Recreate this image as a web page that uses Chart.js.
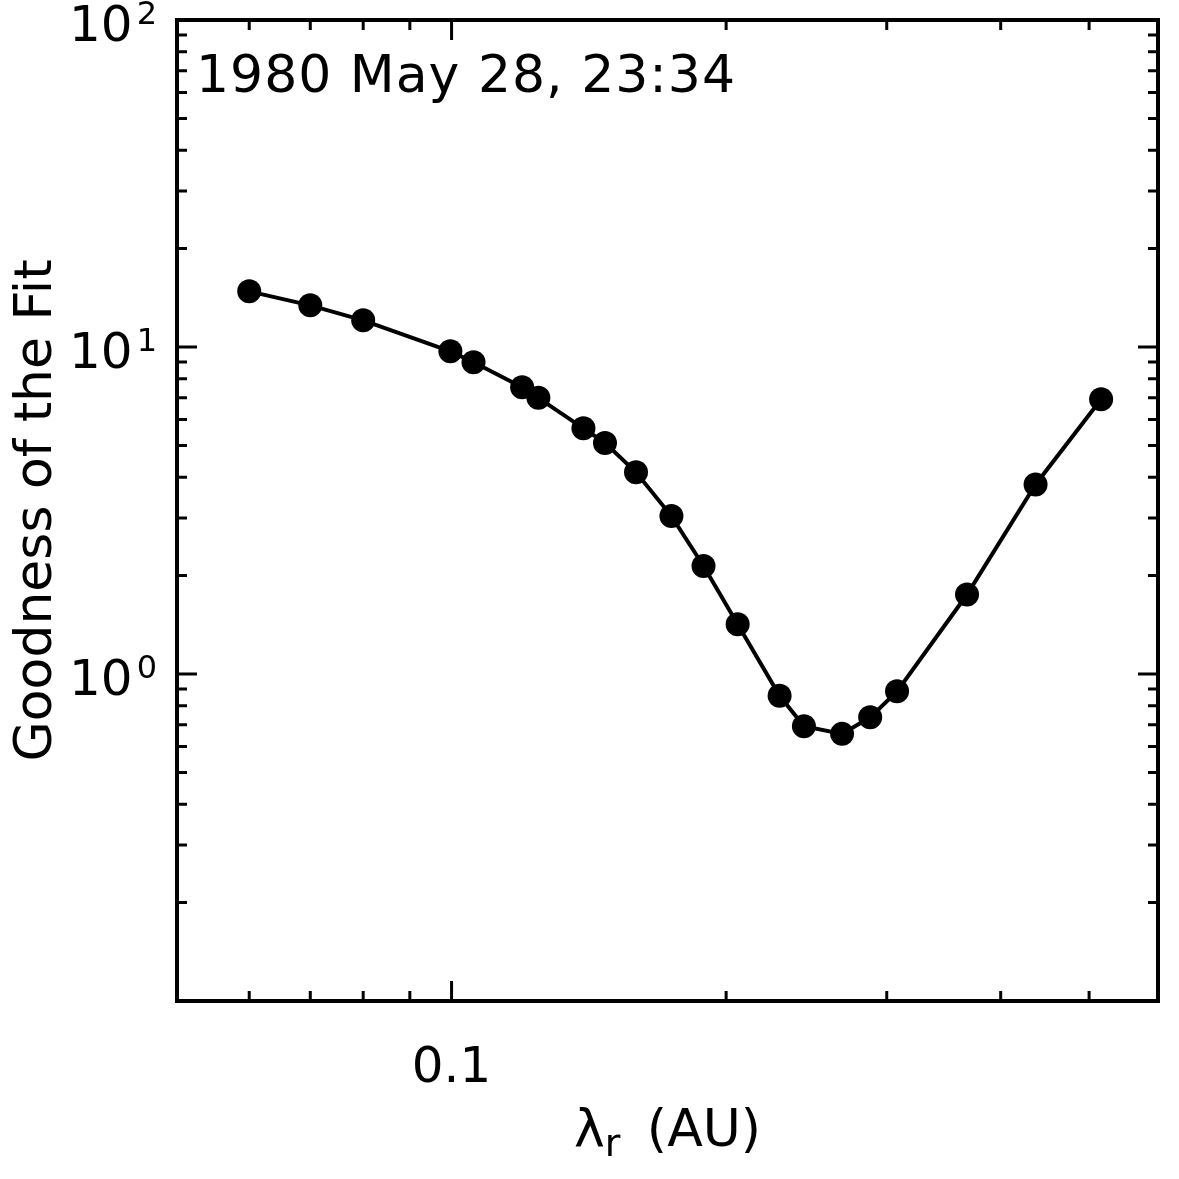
<!DOCTYPE html>
<html>
<head>
<meta charset="utf-8">
<script src="https://cdn.jsdelivr.net/npm/chart.js@4/dist/chart.umd.min.js"></script>
<style>
  html, body { margin: 0; padding: 0; background: #fff; }
  canvas { display: block; }
</style>
</head>
<body>
<canvas id="fit" width="1179" height="1179"></canvas>
<script>
// data
var lambdaR = [0.060, 0.070, 0.080, 0.0997, 0.1057, 0.1195, 0.1245, 0.1395, 0.1473, 0.1593,
               0.1742, 0.1889, 0.2059, 0.2289, 0.2434, 0.2680, 0.2877, 0.3079, 0.3674, 0.4368, 0.5154];
var goodness = [14.80, 13.41, 12.07, 9.70, 8.98, 7.53, 6.99, 5.64, 5.09, 4.14,
                3.04, 2.14, 1.42, 0.858, 0.692, 0.656, 0.737, 0.885, 1.75, 3.80, 6.92];

// axes
var xMin = 0.05, xMax = 0.595;
var yMin = 0.1, yMax = 100;
var xMajorTicks = [0.1];
var xMinorTicks = [0.06, 0.07, 0.08, 0.09, 0.2, 0.3, 0.4, 0.5];
var yMajorTicks = [1, 10];
var yMinorTicks = [0.2, 0.3, 0.4, 0.5, 0.6, 0.7, 0.8, 0.9, 2, 3, 4, 5, 6, 7, 8, 9, 20, 30, 40, 50, 60, 70, 80, 90];
var yLabelExps = [0, 1, 2];

var titleText = "1980 May 28, 23:34";
var yTitle = "Goodness of the Fit";
var font = "'DejaVu Sans', sans-serif";

// frame, inward ticks, labels
var idlFrame = {
    id: "idlFrame",
    afterDraw: function(chart) {
        var ctx = chart.ctx, a = chart.chartArea;
        var xs = chart.scales.x, ys = chart.scales.y;
        ctx.save();
        ctx.strokeStyle = "#000";
        ctx.lineCap = "butt";

        ctx.lineWidth = 3;
        function xTick(v, len) {
            var px = xs.getPixelForValue(v);
            ctx.beginPath();
            ctx.moveTo(px, a.bottom); ctx.lineTo(px, a.bottom - len);
            ctx.moveTo(px, a.top); ctx.lineTo(px, a.top + len);
            ctx.stroke();
        }
        function yTick(v, len) {
            var py = ys.getPixelForValue(v);
            ctx.beginPath();
            ctx.moveTo(a.left, py); ctx.lineTo(a.left + len, py);
            ctx.moveTo(a.right, py); ctx.lineTo(a.right - len, py);
            ctx.stroke();
        }
        xMajorTicks.forEach(function(v) { xTick(v, 20); });
        xMinorTicks.forEach(function(v) { xTick(v, 10); });
        yMajorTicks.forEach(function(v) { yTick(v, 20); });
        yMinorTicks.forEach(function(v) { yTick(v, 10); });

        ctx.lineWidth = 4;
        ctx.strokeRect(a.left, a.top, a.right - a.left, a.bottom - a.top);

        // y tick labels 10^n
        ctx.fillStyle = "#000";
        ctx.textBaseline = "alphabetic";
        yLabelExps.forEach(function(e) {
            var py = ys.getPixelForValue(Math.pow(10, e));
            ctx.font = "32px " + font;
            ctx.textAlign = "right";
            ctx.fillText(String(e), a.left - 20, py + 4);
            var w = ctx.measureText(String(e)).width;
            ctx.font = "50px " + font;
            ctx.fillText("10", a.left - 24 - w, py + 21);
        });

        // x axis title with subscript
        var cx = (a.left + a.right) / 2, by = 1146;
        ctx.font = "52px " + font;
        var w1 = ctx.measureText("\u03bb").width;
        var w3 = ctx.measureText(" (AU)").width + 10;
        ctx.font = "38px " + font;
        var w2 = ctx.measureText("r").width;
        var x0 = cx - (w1 + w2 + w3) / 2;
        ctx.textAlign = "left";
        ctx.font = "52px " + font;
        ctx.fillText("\u03bb", x0, by);
        ctx.fillText(" (AU)", x0 + w1 + w2 + 10, by);
        ctx.font = "38px " + font;
        ctx.fillText("r", x0 + w1, by + 10);

        // date label inside the box
        ctx.font = "52px " + font;
        if ("letterSpacing" in ctx) ctx.letterSpacing = "1px";
        ctx.fillText(titleText, a.left + 19, a.top + 72);
        ctx.restore();
    }
};

new Chart(document.getElementById("fit"), {
    type: "line",
    data: {
        datasets: [{
            data: lambdaR.map(function(x, i) { return { x: x, y: goodness[i] }; }),
            borderColor: "#000",
            borderWidth: 4,
            backgroundColor: "#000",
            pointBackgroundColor: "#000",
            pointBorderColor: "#000",
            pointRadius: 12,
            pointBorderWidth: 0,
            tension: 0,
            fill: false
        }]
    },
    options: {
        responsive: false,
        animation: false,
        devicePixelRatio: 1,
        layout: { padding: { top: 20, right: 21, left: 0, bottom: 0 } },
        plugins: { legend: { display: false }, tooltip: { enabled: false } },
        scales: {
            x: {
                type: "logarithmic",
                min: xMin, max: xMax,
                grid: { display: false, drawTicks: false },
                border: { display: false },
                afterFit: function(s) { s.height = 178; s.paddingLeft = 0; s.paddingRight = 0; },
                ticks: {
                    autoSkip: false,
                    maxRotation: 0,
                    padding: 38,
                    color: "#000",
                    font: { family: font, size: 50 },
                    callback: function(v) { return Math.abs(v - 0.1) < 1e-9 ? "0.1" : ""; }
                }
            },
            y: {
                type: "logarithmic",
                min: yMin, max: yMax,
                grid: { display: false, drawTicks: false },
                border: { display: false },
                afterFit: function(s) { s.width = 177; s.paddingTop = 0; s.paddingBottom = 0; },
                ticks: { display: false },
                title: {
                    display: true,
                    text: yTitle,
                    color: "#000",
                    font: { family: font, size: 52 },
                    padding: { top: 6, bottom: 0 }
                }
            }
        }
    },
    plugins: [idlFrame]
});
</script>
</body>
</html>
